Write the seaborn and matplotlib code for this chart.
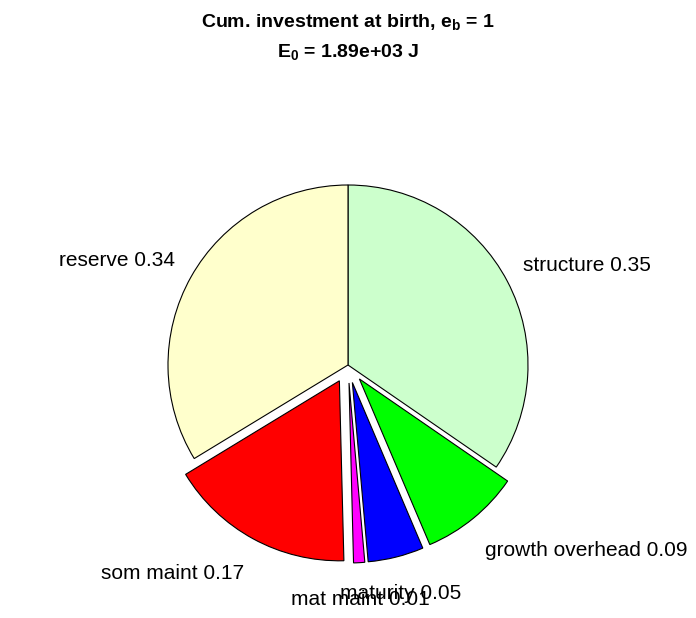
import numpy as np
import matplotlib.pyplot as plt
import seaborn as sns

sns.set_theme(style="white")
plt.rcParams.update({
    "font.family": ["Liberation Sans", "DejaVu Sans"],
    "mathtext.fontset": "custom",
    "mathtext.rm": "Liberation Sans",
    "mathtext.bf": "Liberation Sans:bold",
    "text.color": "black",
})

# ---- data (clockwise from 12 o'clock) ----
names = ["structure", "growth overhead", "maturity", "mat maint", "som maint", "reserve"]
fractions = [0.346, 0.090, 0.050, 0.010, 0.167, 0.337]
exploded = [0, 1, 1, 1, 1, 0]
colors = ["#CCFFCC", "#00FF00", "#0000FF", "#FF00FF", "#FF0000", "#FFFFCC"]
title_lines = [r"Cum. investment at birth, $\mathbf{e_b}$ = 1", r"$\mathbf{E_0}$ = 1.89e+03 J"]

W, H, R = 696, 618, 180  # px; pie radius in px
fig = plt.figure(figsize=(W / 100, H / 100), dpi=100)
ax = fig.add_axes([0, 0, 1, 1])
cx, cy = 348, 365

explode = [0.1 * e for e in exploded]
wedges, _ = ax.pie(fractions, colors=colors, explode=explode, startangle=90,
                   counterclock=False, radius=1.0,
                   wedgeprops=dict(edgecolor="black", linewidth=0.8))
ax.set_xlim(-cx / R, (W - cx) / R)
ax.set_ylim(-(H - cy) / R, cy / R)
ax.axis("off")

# labels: outside the slice along its mid-angle
for w, name, frac, ex in zip(wedges, names, fractions, explode):
    mid = np.deg2rad((w.theta1 + w.theta2) / 2)
    c, s = np.cos(mid), np.sin(mid)
    r = 1.1 + ex
    x, y = r * c, r * s
    if abs(c) < 0.3:
        ha = "center"
    else:
        ha = "left" if c > 0 else "right"
    if s < 0:
        va = "top"
        y -= 0.05
    else:
        va = "bottom"
        y -= 0.01
    ax.text(x, y, f"{name} {frac:.2f}", ha=ha, va=va, fontsize=15, color="black")

fig.text(0.5, 1 - 22 / H, title_lines[0], ha="center", va="center",
         fontsize=14, fontweight="bold", color="black")
fig.text(0.5, 1 - 52 / H, title_lines[1], ha="center", va="center",
         fontsize=14, fontweight="bold", color="black")

fig.savefig("out.png", dpi=100, facecolor="white")
